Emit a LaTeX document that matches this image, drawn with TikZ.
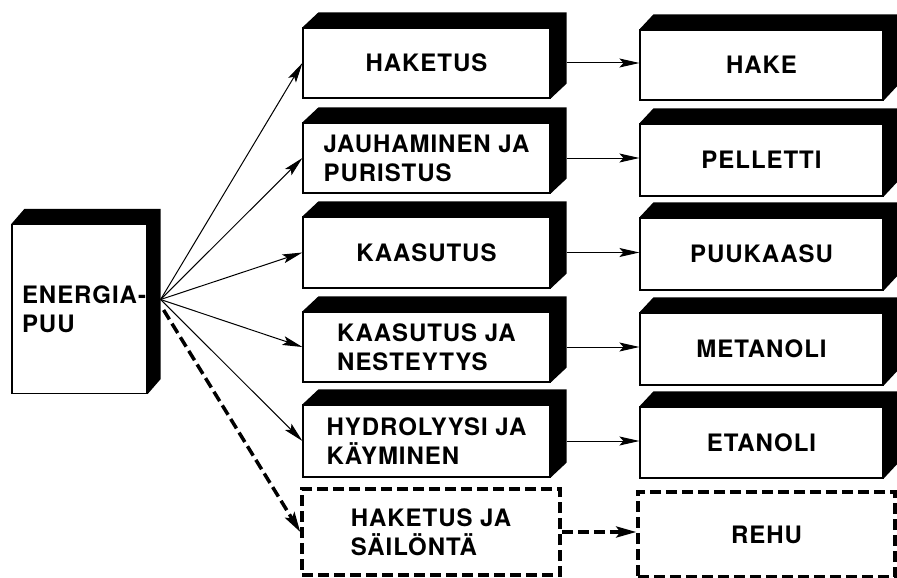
\documentclass[tikz,border=0pt]{standalone}
\usepackage{fontspec}
\setmainfont{TeX Gyre Heros}[LetterSpace=4]
\usetikzlibrary{arrows.meta,backgrounds}
\tikzset{
  txt/.style={font=\fontsize{24}{29}\selectfont\bfseries},
  box/.style={txt, draw, line width=1.2pt, fill=white, rectangle, inner sep=0pt, align=center},
  dbox/.style={txt, draw, line width=3.5pt, dash pattern=on 11pt off 5pt, rectangle, inner sep=0pt, align=center},
  con/.style={line width=1pt, -{Stealth[length=20pt,width=9pt,inset=4pt]}},
  dcon/.style={line width=3.5pt, dash pattern=on 11pt off 5pt, -{Stealth[length=20pt,width=11pt,inset=4pt]}},
  midbox/.style={box, minimum width=247pt},
  rbox/.style={box, minimum width=243pt}
}
\newcommand{\extrude}[3]{%
  \fill ( #1.north west) -- ([shift={(#2,-#3)}]#1.north west) -- ([shift={(#2,-#3)}]#1.north east)
    -- ([shift={(#2,-#3)}]#1.south east) -- (#1.south east) -- (#1.north east) -- cycle;}
\begin{document}
\begin{tikzpicture}[x=1pt,y=-1pt]
\useasboundingbox (0,0) rectangle (897,578);

% source
\node[box, minimum width=135pt, minimum height=169pt, text width=115pt, align=left] (e) at (79.5,309) {\mbox{ENERGIA-}\\PUU};

% middle column
\node[midbox, minimum height=70pt] (m1) at (426.5,63) {HAKETUS};
\node[midbox, minimum height=70pt, align=left] (m2) at (426.5,158) {JAUHAMINEN JA\\PURISTUS};
\node[midbox, minimum height=71pt] (m3) at (426.5,252.5) {KAASUTUS};
\node[midbox, minimum height=70pt, align=left] (m4) at (426.5,347) {KAASUTUS JA\\NESTEYTYS};
\node[midbox, minimum height=72pt, align=left] (m5) at (426.5,441) {HYDROLYYSI JA\\KÄYMINEN};
\node[dbox, minimum width=258pt, minimum height=86pt, align=left] (m6) at (431,532) {HAKETUS JA\\SÄILÖNTÄ};

% right column
\node[rbox, minimum height=70pt] (r1) at (761.5,65) {HAKE};
\node[rbox, minimum height=72pt] (r2) at (761.5,160) {PELLETTI};
\node[rbox, minimum height=72pt] (r3) at (761.5,254) {PUUKAASU};
\node[rbox, minimum height=72pt] (r4) at (761.5,349) {METANOLI};
\node[rbox, minimum height=71pt] (r5) at (761.5,442.5) {ETANOLI};
\node[dbox, minimum width=257pt, minimum height=85pt] (r6) at (766.5,534.5) {REHU};

\begin{scope}[on background layer]
  \extrude{e}{13}{15}
  \extrude{m1}{16}{15}
  \extrude{m2}{16}{15}
  \extrude{m3}{16}{15}
  \extrude{m4}{16}{15}
  \extrude{m5}{16}{15}
  \extrude{r1}{14}{15}
  \extrude{r2}{14}{15}
  \extrude{r3}{14}{15}
  \extrude{r4}{14}{15}
  \extrude{r5}{14}{15}
\end{scope}

\coordinate (src) at ([shift={(13,-9.5)}]e.east);
\coordinate (src2) at ([shift={(16,1)}]e.east);

% fan
\draw[con] (src) -- (m1.west);
\draw[con] (src) -- (m2.west);
\draw[con] (src) -- (m3.west);
\draw[con] (src) -- (m4.west);
\draw[con] (src) -- (m5.west);
\draw[dcon] (src2) -- (m6.west);

% right arrows
\draw[con] ([xshift=16pt]m1.east) -- (m1.east -| r1.west);
\draw[con] ([xshift=16pt]m2.east) -- (m2.east -| r2.west);
\draw[con] ([xshift=16pt]m3.east) -- (m3.east -| r3.west);
\draw[con] ([xshift=16pt]m4.east) -- (m4.east -| r4.west);
\draw[con] ([xshift=16pt]m5.east) -- (m5.east -| r5.west);
\draw[dcon] (m6.east) -- (m6.east -| r6.west);
\end{tikzpicture}
\end{document}
